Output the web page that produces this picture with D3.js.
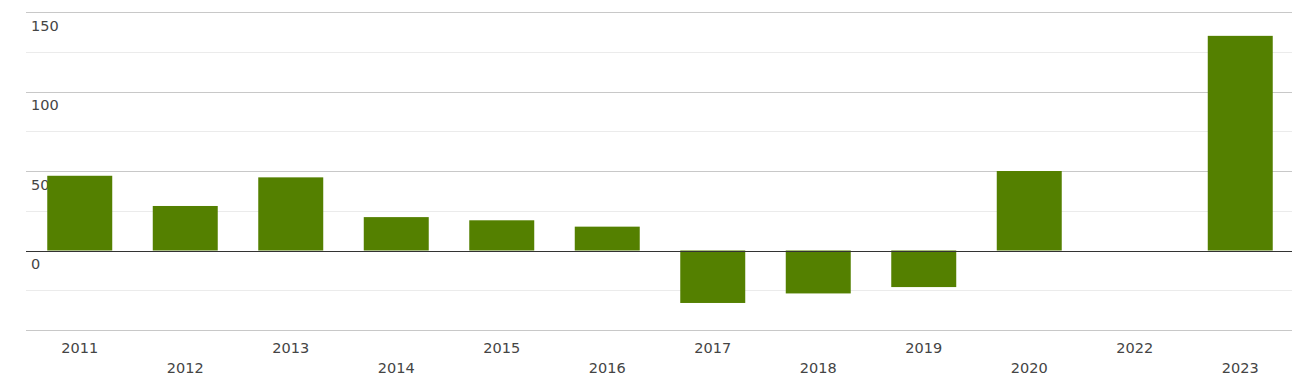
<!DOCTYPE html>
<html lang="en">
<head>
    <meta charset="UTF-8">
    <title>Bar chart</title>
    <script src="https://cdn.jsdelivr.net/npm/d3@7/dist/d3.min.js"></script>
    <style>
        body { margin: 0; background: #fff; }
        text { font-family: "DejaVu Sans", sans-serif; }
    </style>
</head>
<body>
    <svg width="1293" height="384" id="mainsvg"></svg>
    <script>
        const years = ['2011', '2012', '2013', '2014', '2015', '2016', '2017', '2018', '2019', '2020', '2022', '2023'];
        const values = [47, 28, 46, 21, 19, 15, -33, -27, -23, 50, 0, 135];
        const majorTicks = [-50, 0, 50, 100, 150];
        const minorTicks = [-25, 25, 75, 125];

        const svg = d3.select('#mainsvg');
        const margin = { top: 12, right: 1, bottom: 54, left: 26 };
        const innerWidth = +svg.attr('width') - margin.left - margin.right;
        const innerHeight = +svg.attr('height') - margin.top - margin.bottom;

        const g = svg.append('g')
            .attr('transform', `translate(${margin.left},${margin.top})`);

        const yScale = d3.scaleLinear().domain([-50, 150]).range([innerHeight, 0]);
        const xScale = d3.scaleBand().domain(years).range([1, innerWidth + 1])
            .paddingInner(0.384).paddingOuter(0.192);

        // grid lines
        g.selectAll('.minor').data(minorTicks).enter().append('line')
            .attr('x1', 0).attr('x2', innerWidth)
            .attr('y1', d => Math.round(yScale(d)) + 0.5).attr('y2', d => Math.round(yScale(d)) + 0.5)
            .attr('stroke', '#ebebeb');
        g.selectAll('.major').data(majorTicks.filter(d => d !== 0)).enter().append('line')
            .attr('x1', 0).attr('x2', innerWidth)
            .attr('y1', d => Math.round(yScale(d)) + 0.5).attr('y2', d => Math.round(yScale(d)) + 0.5)
            .attr('stroke', '#c8c8c8');

        // y labels (under the bars)
        g.selectAll('.ylab').data(majorTicks.filter(d => d >= 0)).enter().append('text')
            .attr('x', 5)
            .attr('y', d => yScale(d) + 18.5)
            .attr('fill', '#444')
            .attr('font-size', 14.5)
            .text(d => d);

        // bars
        const data = years.map((y, i) => ({ year: y, value: values[i] }));
        g.selectAll('rect').data(data).enter().append('rect')
            .attr('x', d => xScale(d.year))
            .attr('width', xScale.bandwidth())
            .attr('y', d => yScale(Math.max(0, d.value)))
            .attr('height', d => Math.abs(yScale(d.value) - yScale(0)))
            .attr('fill', '#548000');

        // zero line
        g.append('line')
            .attr('x1', 0).attr('x2', innerWidth)
            .attr('y1', Math.round(yScale(0)) + 0.5).attr('y2', Math.round(yScale(0)) + 0.5)
            .attr('stroke', '#333');

        // x labels, staggered
        g.selectAll('.xlab').data(years).enter().append('text')
            .attr('x', d => xScale(d) + xScale.bandwidth() / 2)
            .attr('y', (d, i) => innerHeight + (i % 2 === 0 ? 23 : 43))
            .attr('text-anchor', 'middle')
            .attr('fill', '#444')
            .attr('font-size', 14.5)
            .text(d => d);
    </script>
</body>
</html>
